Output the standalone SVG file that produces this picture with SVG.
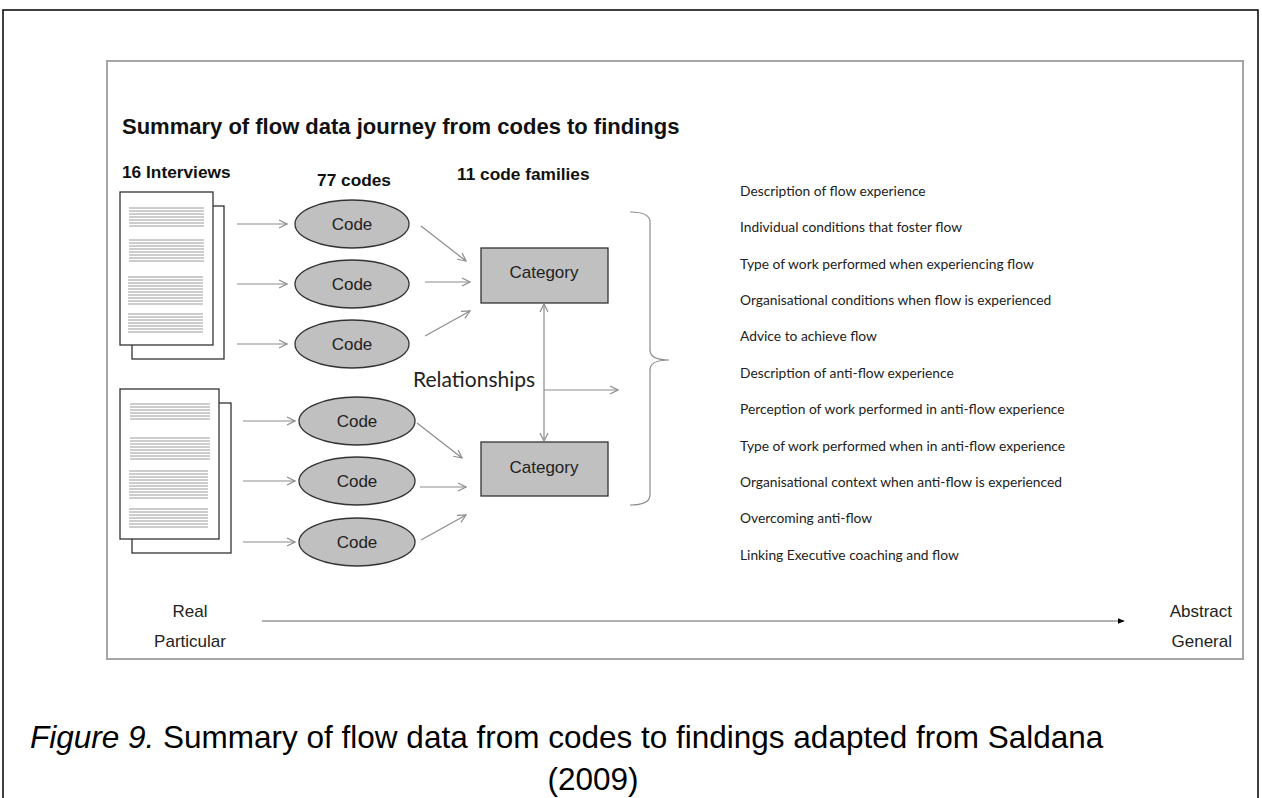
<svg xmlns="http://www.w3.org/2000/svg" width="1262" height="798" viewBox="0 0 1262 798">
  <defs>
    <marker id="open" viewBox="0 0 10 10" refX="9" refY="5" markerWidth="10" markerHeight="10" markerUnits="userSpaceOnUse" orient="auto-start-reverse">
      <path d="M1,1 L9,5 L1,9" fill="none" stroke="#8c8c8c" stroke-width="1.2"/>
    </marker>
    <marker id="solid" viewBox="0 0 10 10" refX="9" refY="5" markerWidth="7" markerHeight="7" markerUnits="userSpaceOnUse" orient="auto">
      <path d="M0,1 L10,5 L0,9 Z" fill="#000"/>
    </marker>
  </defs>
  <style>
    .bold { font-family: "Liberation Sans", Arial, sans-serif; font-weight: bold; fill: #111; }
    .lbl { font-family: "Liberation Sans", Arial, sans-serif; font-size: 17px; fill: #222; }
    .cal { font-family: Lato, "Open Sans", sans-serif; fill: #222; }
    .conn { stroke: #8c8c8c; stroke-width: 1.2; fill: none; }
    .code { fill: #c0c0c0; stroke: #333; stroke-width: 1.3; }
    .page { fill: #fff; stroke: #333; stroke-width: 1.3; }
    .txt { stroke: #9a9a9a; stroke-width: 1; fill: none; }
  </style>

  <!-- page border -->
  <path d="M3,798 V10 H1258 V798" fill="none" stroke="#000" stroke-width="1.5"/>

  <!-- figure frame -->
  <rect x="107" y="61" width="1136" height="598" fill="#fff" stroke="#a6a6a6" stroke-width="2"/>

  <text class="bold" x="122" y="134" font-size="22">Summary of flow data journey from codes to findings</text>
  <text class="bold" x="122" y="178" font-size="17.3">16 Interviews</text>
  <text class="bold" x="354" y="186" font-size="17.3" text-anchor="middle">77 codes</text>
  <text class="bold" x="457" y="180" font-size="17.3">11 code families</text>

  <!-- interview documents -->
  <g id="doc1">
    <rect class="page" x="132" y="206" width="92" height="153"/>
    <rect class="page" x="120" y="192" width="93" height="153"/>
    <path class="txt" d="M129,208H204M129,211H204M129,214H204M129,217H204M129,220H204M129,223H204M129,226H204
      M129,240H204M129,243H204M129,246H204M129,249H204M129,252H204M129,255H204M129,258H204M129,261H204
      M128,277H203M128,280H203M128,283H203M128,286H203M128,289H203M128,292H203M128,295H203M128,298H203M128,301H203M128,304H203
      M128,314H203M128,317H203M128,320H203M128,323H203M128,326H203M128,329H203M128,332H203"/>
  </g>
  <g id="doc2">
    <rect class="page" x="132" y="403" width="99" height="150"/>
    <rect class="page" x="120" y="389" width="99" height="150"/>
    <path class="txt" d="M130,404H210M130,407H210M130,410H210M130,413H210M130,416H210M130,419H210
      M130,438H210M130,441H210M130,444H210M130,447H210M130,450H210M130,453H210M130,456H210M130,459H210
      M129,471H208M129,474H208M129,477H208M129,480H208M129,483H208M129,486H208M129,489H208M129,492H208M129,495H208M129,498H208
      M129,509H208M129,512H208M129,515H208M129,518H208M129,521H208M129,524H208M129,527H208"/>
  </g>

  <!-- codes -->
  <g id="code1"><ellipse class="code" cx="352" cy="224" rx="57" ry="24"/><text class="lbl" x="352" y="230" text-anchor="middle">Code</text></g>
  <g id="code2"><ellipse class="code" cx="352" cy="284" rx="57" ry="24"/><text class="lbl" x="352" y="290" text-anchor="middle">Code</text></g>
  <g id="code3"><ellipse class="code" cx="352" cy="344" rx="57" ry="24"/><text class="lbl" x="352" y="350" text-anchor="middle">Code</text></g>
  <g id="code4"><ellipse class="code" cx="357" cy="421" rx="58" ry="24"/><text class="lbl" x="357" y="427" text-anchor="middle">Code</text></g>
  <g id="code5"><ellipse class="code" cx="357" cy="481" rx="58" ry="24"/><text class="lbl" x="357" y="487" text-anchor="middle">Code</text></g>
  <g id="code6"><ellipse class="code" cx="357" cy="542" rx="58" ry="24"/><text class="lbl" x="357" y="548" text-anchor="middle">Code</text></g>

  <!-- categories -->
  <g id="category1"><rect class="code" x="481" y="248" width="127" height="55"/><text class="lbl" x="544" y="278" text-anchor="middle">Category</text></g>
  <g id="category2"><rect class="code" x="481" y="442" width="127" height="54"/><text class="lbl" x="544" y="473" text-anchor="middle">Category</text></g>

  <text class="cal" x="413" y="387" font-size="21">Relationships</text>

  <!-- connectors -->
  <g id="connectors" class="conn">
    <line x1="237" y1="224" x2="287" y2="224" marker-end="url(#open)"/>
    <line x1="237" y1="284" x2="287" y2="284" marker-end="url(#open)"/>
    <line x1="237" y1="344" x2="287" y2="344" marker-end="url(#open)"/>
    <line x1="243" y1="421" x2="295" y2="421" marker-end="url(#open)"/>
    <line x1="243" y1="481" x2="295" y2="481" marker-end="url(#open)"/>
    <line x1="243" y1="542" x2="295" y2="542" marker-end="url(#open)"/>

    <line x1="421" y1="226" x2="466" y2="261" marker-end="url(#open)"/>
    <line x1="425" y1="282" x2="470" y2="282" marker-end="url(#open)"/>
    <line x1="425" y1="336" x2="470" y2="311" marker-end="url(#open)"/>
    <line x1="417" y1="423" x2="462" y2="458" marker-end="url(#open)"/>
    <line x1="420" y1="487" x2="466" y2="487" marker-end="url(#open)"/>
    <line x1="421" y1="540" x2="466" y2="515" marker-end="url(#open)"/>

    <line x1="544" y1="304" x2="544" y2="441" marker-start="url(#open)" marker-end="url(#open)"/>
    <line x1="544" y1="390" x2="618" y2="390" marker-end="url(#open)"/>

    <!-- brace -->
    <path d="M630,212 Q650,212 650,222 V350 Q650,360 669,360 Q650,360 650,370 V495 Q650,505 630,505"/>

    <!-- real → abstract axis -->
    <line x1="262" y1="621" x2="1124" y2="621" stroke="#999" stroke-width="1.5" marker-end="url(#solid)"/>
  </g>

  <!-- findings -->
  <g id="findings" class="cal" font-size="13.8">
    <text x="740" y="196">Description of flow experience</text>
    <text x="740" y="232">Individual conditions that foster flow</text>
    <text x="740" y="269">Type of work performed when experiencing flow</text>
    <text x="740" y="305">Organisational conditions when flow is experienced</text>
    <text x="740" y="341">Advice to achieve flow</text>
    <text x="740" y="378">Description of anti-flow experience</text>
    <text x="740" y="414">Perception of work performed in anti-flow experience</text>
    <text x="740" y="451">Type of work performed when in anti-flow experience</text>
    <text x="740" y="487">Organisational context when anti-flow is experienced</text>
    <text x="740" y="523">Overcoming anti-flow</text>
    <text x="740" y="560">Linking Executive coaching and flow</text>
  </g>

  <g class="lbl" font-size="17">
    <text x="190" y="617" text-anchor="middle">Real</text>
    <text x="190" y="647" text-anchor="middle">Particular</text>
    <text x="1232" y="617" text-anchor="end">Abstract</text>
    <text x="1232" y="647" text-anchor="end">General</text>
  </g>

  <!-- caption -->
  <text x="30" y="748" font-family="'Liberation Sans', Arial, sans-serif" font-size="31.5" fill="#000"><tspan font-style="italic">Figure 9.</tspan> Summary of flow data from codes to findings adapted from Saldana</text>
  <text x="593" y="790" font-family="'Liberation Sans', Arial, sans-serif" font-size="31.5" fill="#000" text-anchor="middle">(2009)</text>
</svg>
